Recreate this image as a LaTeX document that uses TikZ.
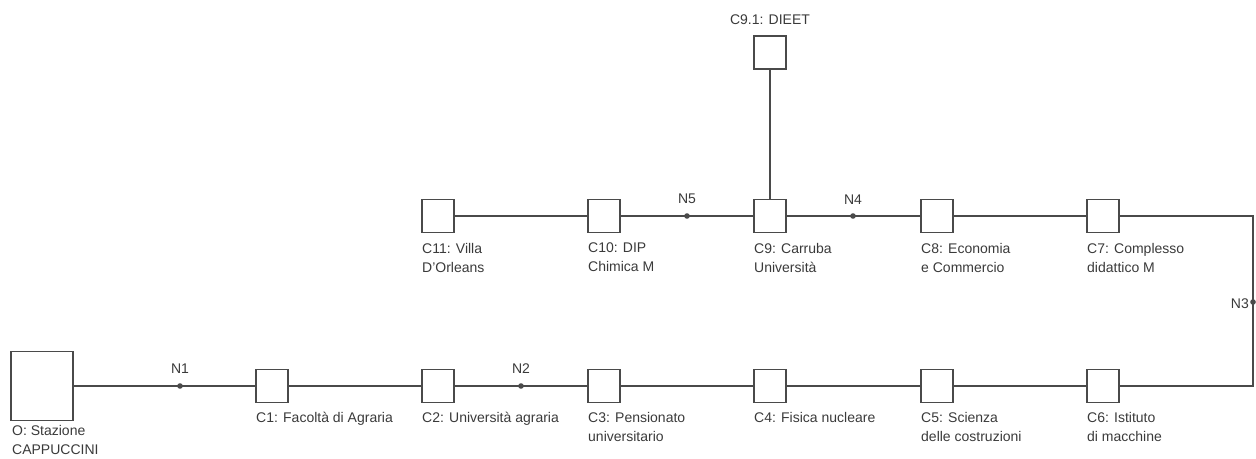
\documentclass[tikz,border=0pt]{standalone}
\usepackage{fontspec}
\setmainfont{Liberation Sans}
\definecolor{ln}{HTML}{4A4A4A}
\definecolor{tx}{HTML}{3A3A3A}
\begin{document}
\begin{tikzpicture}[x=1pt,y=-1pt,
  box/.style={draw=ln,line width=1.6pt,fill=white,minimum width=32pt,minimum height=33pt,inner sep=0pt},
  bigbox/.style={draw=ln,line width=1.6pt,fill=white,minimum width=62pt,minimum height=69pt,inner sep=0pt},
  dot/.style={circle,inner sep=0pt,minimum size=6pt},
  lbl/.style={font=\fontsize{14}{19}\selectfont,text=tx,inner sep=0pt,align=left,anchor=north west},
  nlbl/.style={font=\fontsize{14}{17}\selectfont,text=tx,inner sep=0pt},
  wire/.style={draw=ln,line width=1.6pt}]
\useasboundingbox (0,0) rectangle (1256,458);
% nodes bottom row
\node[bigbox] (O) at (42,386) {};
\node[dot] (N1) at (180,386) {};
\node[box] (C1) at (272,386) {};
\node[box] (C2) at (438,386) {};
\node[dot] (N2) at (521,386) {};
\node[box] (C3) at (604,386) {};
\node[box] (C4) at (770,386) {};
\node[box] (C5) at (937,386) {};
\node[box] (C6) at (1103,386) {};
\node[dot] (N3) at (1253,302) {};
% top row
\node[box] (C7) at (1103,216) {};
\node[box] (C8) at (937,216) {};
\node[dot] (N4) at (853,216) {};
\node[box] (C9) at (770,216) {};
\node[dot] (N5) at (687,216) {};
\node[box] (C10) at (604,216) {};
\node[box] (C11) at (438,216) {};
\node[box] (C91) at (770,52.5) {};
% connectors
\draw[wire] (O.east) -- (N1.center) -- (C1.west);
\draw[wire] (C1.east) -- (C2.west);
\draw[wire] (C2.east) -- (N2.center) -- (C3.west);
\draw[wire] (C3.east) -- (C4.west);
\draw[wire] (C4.east) -- (C5.west);
\draw[wire] (C5.east) -- (C6.west);
\draw[wire] (C6.east) -| (N3.center);
\draw[wire] (N3.center) |- (C7.east);
\draw[wire] (C7.west) -- (C8.east);
\draw[wire] (C8.west) -- (N4.center) -- (C9.east);
\draw[wire] (C9.west) -- (N5.center) -- (C10.east);
\draw[wire] (C10.west) -- (C11.east);
\draw[wire] (C9.north) -- (C91.south);
% junction dots
\foreach \n in {N1,N2,N3,N4,N5} \fill[ln] (\n.center) circle[radius=2.8pt];
% labels
\node[lbl] (LO) at (12,425) {O: Stazione\\CAPPUCCINI};
\node[lbl] (L1) at (256,412) {C1: Facoltà di Agraria};
\node[lbl] (L2) at (422,412) {C2: Università agraria};
\node[lbl] (L3) at (588,412) {C3: Pensionato\\universitario};
\node[lbl] (L4) at (754,412) {C4: Fisica nucleare};
\node[lbl] (L5) at (921,412) {C5: Scienza\\delle costruzioni};
\node[lbl] (L6) at (1087,412) {C6: Istituto\\di macchine};
\node[lbl] (L7) at (1087,243) {C7: Complesso\\didattico M};
\node[lbl] (L8) at (921,243) {C8: Economia\\e Commercio};
\node[lbl] (L9) at (754,243) {C9: Carruba\\Università};
\node[lbl] (L10) at (588,243) {C10: DIP\\Chimica M};
\node[lbl] (L11) at (422,243) {C11: Villa\\D'Orleans};
\node[nlbl] (L91) at (770,20) {C9.1: DIEET};
\node[nlbl] (LN1) at (180,369) {N1};
\node[nlbl] (LN2) at (521,369) {N2};
\node[nlbl,anchor=east] (LN3) at (1249,304) {N3};
\node[nlbl] (LN4) at (853,200) {N4};
\node[nlbl] (LN5) at (687,199) {N5};
\end{tikzpicture}
\end{document}
